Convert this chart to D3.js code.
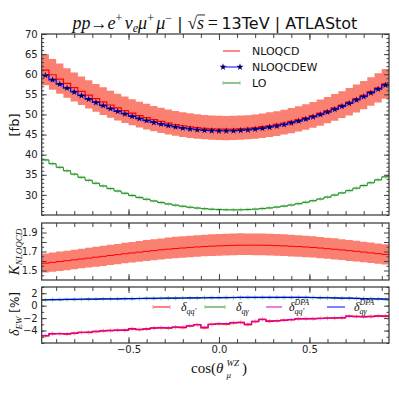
<!DOCTYPE html>
<meta charset="utf-8">
<script src="https://cdn.jsdelivr.net/npm/d3@7"></script>
<style>
body { margin: 0; background: #fff; }
text { font-family: "DejaVu Sans", sans-serif; fill: #111; }
.math { font-family: "Liberation Serif", "DejaVu Serif", serif; font-style: italic; }
.serif { font-family: "Liberation Serif", "DejaVu Serif", serif; }
.tick text { font-size: 10px; fill: #222; }
</style>
<body>
<script>

// binning in cos(theta): 48 bins of 0.04 from -0.98
var binLo = -0.98, binW = 0.04, nBins = 48;

// top panel [fb]
var nloqcd = [61.02,59.87,58.76,57.70,56.69,55.73,54.81,53.95,53.13,52.35,51.62,50.95,
  50.31,49.73,49.19,48.70,48.26,47.86,47.50,47.19,46.94,46.72,46.56,46.43,
  46.36,46.34,46.37,46.45,46.57,46.74,46.95,47.22,47.52,47.87,48.26,48.72,
  49.20,49.74,50.32,50.94,51.61,52.33,53.09,53.91,54.76,55.65,56.59,57.59];
var nloqcdew = [59.71,58.61,57.55,56.54,55.58,54.66,53.79,52.97,52.19,51.45,50.76,50.12,
  49.52,48.97,48.46,48.00,47.59,47.22,46.89,46.61,46.38,46.19,46.05,45.95,
  45.90,45.89,45.93,46.02,46.15,46.33,46.55,46.82,47.13,47.49,47.89,48.35,
  48.84,49.38,49.97,50.60,51.28,52.00,52.77,53.59,54.45,55.35,56.30,57.30];
var lo = [38.70,37.76,36.86,35.99,35.16,34.37,33.62,32.89,32.22,31.57,30.97,30.40,
  29.86,29.37,28.91,28.49,28.10,27.75,27.44,27.17,26.93,26.73,26.57,26.44,
  26.35,26.30,26.28,26.30,26.36,26.46,26.59,26.76,26.97,27.21,27.49,27.81,
  28.16,28.55,28.98,29.45,29.95,30.49,31.07,31.68,32.33,33.02,33.74,34.50];
var loErr = 0.5;

// scale variation of NLOQCD [%]
var scaleUp = [6.5,6.5,6.6,6.6,6.6,6.7,6.7,6.7,6.8,6.8,6.8,6.9,6.9,6.9,7.0,7.0,7.0,7.1,7.1,7.1,7.1,7.1,7.1,7.1,
  7.1,7.1,7.1,7.1,7.0,7.0,7.0,7.0,6.9,6.9,6.9,6.8,6.8,6.8,6.7,6.7,6.7,6.6,6.6,6.6,6.5,6.5,6.4,6.4];
var scaleDn = [6.2,6.2,6.2,6.2,6.1,6.1,6.1,6.1,6.1,6.0,6.0,6.0,6.0,6.0,6.0,5.9,5.9,5.9,5.9,5.9,5.9,5.9,5.9,5.9,
  5.9,5.9,5.9,5.9,5.9,6.0,6.0,6.0,6.0,6.0,6.1,6.1,6.1,6.1,6.2,6.2,6.2,6.2,6.3,6.3,6.3,6.3,6.4,6.4];

// EW corrections [%]
var dqq = [-4.85,-4.5,-4.5,-4.55,-4.45,-4.3,-4.3,-4.15,-4.05,-4.0,-3.95,-3.95,
  -3.7,-3.85,-3.75,-3.6,-3.55,-3.6,-3.45,-3.5,-3.25,-3.05,-3.55,-3.0,
  -2.9,-2.95,-2.75,-2.7,-3.05,-2.55,-2.2,-2.5,-2.45,-2.35,-2.25,-2.1,
  -2.1,-2.1,-2.05,-2.0,-2.0,-1.95,-1.7,-1.75,-1.8,-1.75,-1.65,-1.7];
var dqqDPA = [-4.8,-4.55,-4.5,-4.5,-4.4,-4.3,-4.25,-4.15,-4.05,-4.0,-3.95,-3.9,
  -3.75,-3.8,-3.7,-3.6,-3.55,-3.55,-3.45,-3.45,-3.25,-3.05,-3.45,-3.0,
  -2.9,-2.9,-2.75,-2.7,-2.95,-2.55,-2.25,-2.45,-2.4,-2.35,-2.25,-2.1,
  -2.1,-2.05,-2.05,-2.0,-1.95,-1.95,-1.7,-1.75,-1.75,-1.75,-1.65,-1.65];
var dqg = [0.93,0.96,0.98,0.99,1.01,1.03,1.04,1.06,1.07,1.09,1.1,1.11,1.13,1.14,1.16,1.17,1.19,1.2,1.21,1.23,1.24,1.25,1.27,1.28,
  1.29,1.3,1.3,1.31,1.32,1.32,1.33,1.33,1.33,1.33,1.33,1.32,1.31,1.3,1.28,1.26,1.24,1.21,1.19,1.16,1.13,1.1,1.07,1.04];
var dqgDPA = [0.95,0.97,0.98,1.0,1.02,1.03,1.05,1.06,1.08,1.09,1.1,1.12,1.13,1.15,1.16,1.18,1.19,1.2,1.22,1.23,1.25,1.26,1.27,1.28,
  1.3,1.3,1.31,1.32,1.32,1.33,1.33,1.34,1.34,1.34,1.34,1.33,1.32,1.31,1.29,1.27,1.25,1.22,1.2,1.17,1.14,1.11,1.08,1.05];
var dErr = 0.35;

var edges = d3.range(nBins + 1).map(function(i) { return binLo + i * binW; });
var centers = d3.range(nBins).map(function(i) { return binLo + (i + 0.5) * binW; });

var svg = d3.select("body").append("svg")
    .attr("width", 399)
    .attr("height", 399);

var left = 41.7, right = 389;
var x = d3.scaleLinear().domain([-0.98, 0.94]).range([left, right]);
var y1 = d3.scaleLinear().domain([25, 70]).range([215, 34]);
var y2 = d3.scaleLinear().domain([1.4, 2.0]).range([280, 223]);
var y3 = d3.scaleLinear().domain([-6, 3]).range([343, 287]);

function steps(vals) {
  var p = vals.map(function(v, i) { return [edges[i], v]; });
  p.push([edges[nBins], vals[nBins - 1]]);
  return p;
}
function stepLine(ys) {
  return d3.line().x(function(d) { return x(d[0]); }).y(function(d) { return ys(d[1]); }).curve(d3.curveStepAfter);
}
function stepArea(ys) {
  return d3.area().x(function(d) { return x(d[0]); })
    .y0(function(d) { return ys(d[1]); }).y1(function(d) { return ys(d[2]); })
    .curve(d3.curveStepAfter);
}
function bandPts(lowv, highv) {
  var p = lowv.map(function(v, i) { return [edges[i], v, highv[i]]; });
  p.push([edges[nBins], lowv[nBins - 1], highv[nBins - 1]]);
  return p;
}

var defs = svg.append("defs");
function panel(id, ys) {
  defs.append("clipPath").attr("id", id).append("rect")
    .attr("x", left).attr("y", ys.range()[1])
    .attr("width", right - left).attr("height", ys.range()[0] - ys.range()[1]);
  return svg.append("g").attr("clip-path", "url(#" + id + ")");
}

function errTicks(g, ys, vals, err, color) {
  g.selectAll(null).data(vals).enter().append("line")
    .attr("x1", function(d, i) { return x(centers[i]); })
    .attr("x2", function(d, i) { return x(centers[i]); })
    .attr("y1", function(d) { return ys(d - err); })
    .attr("y2", function(d) { return ys(d + err); })
    .attr("stroke", color).attr("stroke-width", 1);
  g.selectAll(null).data(vals).enter().append("line")
    .attr("x1", function(d, i) { return x(edges[i]) + 0.5; })
    .attr("x2", function(d, i) { return x(edges[i + 1]) - 0.5; })
    .attr("y1", function(d) { return ys(d); })
    .attr("y2", function(d) { return ys(d); })
    .attr("stroke", color).attr("stroke-width", 2);
}

// ---------- top panel
var nloUp = nloqcd.map(function(v, i) { return v * (1 + scaleUp[i] / 100); });
var nloDn = nloqcd.map(function(v, i) { return v * (1 - scaleDn[i] / 100); });

var p1 = panel("c1", y1);
p1.append("path").datum(bandPts(nloDn, nloUp)).attr("d", stepArea(y1)).attr("fill", "#fa8072");
p1.append("path").datum(steps(nloqcd)).attr("d", stepLine(y1)).attr("fill", "none").attr("stroke", "#ff0000").attr("stroke-width", 1.2);
p1.append("path").datum(steps(nloqcdew)).attr("d", stepLine(y1)).attr("fill", "none").attr("stroke", "#0000ff").attr("stroke-width", 1.2);
p1.selectAll(".star").data(nloqcdew).enter().append("path")
  .attr("d", d3.symbol().type(d3.symbolStar).size(15))
  .attr("transform", function(d, i) { return "translate(" + x(centers[i]) + "," + y1(d) + ")"; })
  .attr("fill", "#000066");
errTicks(p1, y1, lo, loErr, "#a8dca8");
p1.append("path").datum(steps(lo)).attr("d", stepLine(y1)).attr("fill", "none").attr("stroke", "#1f8a1f").attr("stroke-width", 1);

// ---------- K factor panel
var kval = nloqcd.map(function(v, i) { return v / lo[i]; });
var kUp = nloUp.map(function(v, i) { return v / lo[i]; });
var kDn = nloDn.map(function(v, i) { return v / lo[i]; });
var p2 = panel("c2", y2);
p2.append("path").datum(bandPts(kDn, kUp)).attr("d", stepArea(y2)).attr("fill", "#fa8072");
p2.append("path").datum(steps(kval)).attr("d", stepLine(y2)).attr("fill", "none").attr("stroke", "#ff0000").attr("stroke-width", 1);

// ---------- EW panel
var p3 = panel("c3", y3);
errTicks(p3, y3, dqg, dErr, "#8fd18f");
p3.append("path").datum(steps(dqg)).attr("d", stepLine(y3)).attr("fill", "none").attr("stroke", "#1f8a1f").attr("stroke-width", 1);
p3.append("path").datum(steps(dqgDPA)).attr("d", stepLine(y3)).attr("fill", "none").attr("stroke", "#0000ff").attr("stroke-width", 1.2);
errTicks(p3, y3, dqq, dErr, "#ff9a9a");
p3.append("path").datum(steps(dqq)).attr("d", stepLine(y3)).attr("fill", "none").attr("stroke", "#ff0000").attr("stroke-width", 1.4);
p3.append("path").datum(steps(dqqDPA)).attr("d", stepLine(y3)).attr("fill", "none").attr("stroke", "#cc00cc").attr("stroke-width", 1);

// ---------- axes (ticks inward on all four sides)
var xMinor = d3.range(-9, 10).map(function(k) { return k / 10; });
var xMajor = [-0.5, 0, 0.5];

function axes(ys, yMajor, yMinor, yFmt, labelX) {
  var top = ys.range()[1], bot = ys.range()[0];
  var g = svg.append("g").attr("class", "ax");
  function add(axis, tr) {
    var a = g.append("g").attr("transform", tr).call(axis);
    a.select(".domain").remove();
    a.selectAll(".tick line").attr("stroke", "#444");
    return a;
  }
  // y
  add(d3.axisLeft(ys).tickValues(yMinor).tickSizeInner(-2.5).tickSizeOuter(0).tickFormat(""), "translate(" + left + ",0)");
  add(d3.axisRight(ys).tickValues(yMinor).tickSizeInner(-2.5).tickSizeOuter(0).tickFormat(""), "translate(" + right + ",0)");
  add(d3.axisLeft(ys).tickValues(yMajor).tickSizeInner(-5).tickSizeOuter(0).tickPadding(4).tickFormat(yFmt), "translate(" + left + ",0)");
  add(d3.axisRight(ys).tickValues(yMajor).tickSizeInner(-5).tickSizeOuter(0).tickFormat(""), "translate(" + right + ",0)");
  // x
  add(d3.axisBottom(x).tickValues(xMinor).tickSizeInner(-4).tickSizeOuter(0).tickFormat(""), "translate(0," + bot + ")");
  add(d3.axisTop(x).tickValues(xMinor).tickSizeInner(-4).tickSizeOuter(0).tickFormat(""), "translate(0," + top + ")");
  add(d3.axisBottom(x).tickValues(xMajor).tickSizeInner(-6).tickSizeOuter(0).tickPadding(3)
      .tickFormat(labelX ? d3.format(".1f") : ""), "translate(0," + bot + ")");
  add(d3.axisTop(x).tickValues(xMajor).tickSizeInner(-6).tickSizeOuter(0).tickFormat(""), "translate(0," + top + ")");
  g.append("rect").attr("x", left).attr("y", top).attr("width", right - left).attr("height", bot - top)
    .attr("fill", "none").attr("stroke", "#333").attr("stroke-width", 1.2);
}
axes(y1, d3.range(30, 71, 5), d3.range(25, 71, 1), d3.format("d"), false);
axes(y2, [1.5, 1.6, 1.7, 1.8, 1.9], [1.45, 1.55, 1.65, 1.75, 1.85, 1.95],
  function(d) { return (Math.round(d * 10) % 2 === 1) ? d3.format(".1f")(d) : ""; }, false);
axes(y3, [-4, -2, 0, 2], d3.range(-6, 4, 1), d3.format("d"), true);

// ---------- rich text helper
function rich(g, x0, y0, parts) {
  var cx = x0, lastStart = x0;
  parts.forEach(function(p) {
    var sx = p.stack ? lastStart : cx;
    var t = g.append("text").attr("x", sx).attr("y", y0 + (p.dy || 0))
      .style("font-size", p.size + "px").text(p.t);
    if (p.cls) t.attr("class", p.cls);
    var w = t.node().getComputedTextLength();
    if (p.over) g.append("line").attr("x1", sx).attr("x2", sx + w + 1)
      .attr("y1", y0 - p.size * 0.78).attr("y2", y0 - p.size * 0.78).attr("stroke", "#111").attr("stroke-width", 0.9);
    if (!p.stack) lastStart = sx;
    cx = Math.max(cx, sx + w);
  });
  return cx;
}
function centered(parts, cxp, cyp, rotate) {
  var g = svg.append("g");
  var inner = g.append("g");
  var w = rich(inner, 0, 0, parts);
  if (rotate) g.attr("transform", "translate(" + cxp + "," + cyp + ") rotate(-90) translate(" + (-w / 2) + ",0)");
  else g.attr("transform", "translate(" + (cxp - w / 2) + "," + cyp + ")");
  return g;
}

// title
centered([
  {t: "pp", cls: "math", size: 18},
  {t: "\u2192", cls: "serif", size: 17},
  {t: "e", cls: "math", size: 18},
  {t: "+\u2009", cls: "serif", size: 12, dy: -7},
  {t: "\u03bd", cls: "math", size: 18},
  {t: "e", cls: "math", size: 12, dy: 3},
  {t: "\u03bc", cls: "math", size: 18},
  {t: "+\u2009", cls: "serif", size: 12, dy: -7},
  {t: "\u03bc", cls: "math", size: 18},
  {t: "\u2212", cls: "serif", size: 12, dy: -7},
  {t: "\u00a0|\u00a0", size: 16},
  {t: "\u221a", cls: "serif", size: 17},
  {t: "s", cls: "math", size: 18, over: true},
  {t: "\u2009=\u2009", cls: "serif", size: 18},
  {t: "13TeV | ATLAStot", size: 16}
], 215, 29, false);

// y labels
centered([{t: "[fb]", size: 13}], 19, 125, true);
centered([
  {t: "K", cls: "math", size: 15},
  {t: "NLOQCD", cls: "math", size: 9, dy: 3}
], 19, 252, true);
centered([
  {t: "\u03b4", cls: "math", size: 14},
  {t: "EW", cls: "math", size: 9, dy: 3},
  {t: "\u00a0[%]", size: 12}
], 19, 314, true);

// x label
centered([
  {t: "cos(", cls: "serif", size: 15},
  {t: "\u03b8\u2009", cls: "math", size: 15},
  {t: "WZ", cls: "math", size: 9, dy: -7},
  {t: "\u03bc", cls: "math", size: 9, dy: 5, stack: true},
  {t: "\u2009)", cls: "serif", size: 15}
], 219, 373, false);

// ---------- top legend
var leg = svg.append("g");
leg.append("line").attr("x1", 223).attr("x2", 240).attr("y1", 51).attr("y2", 51).attr("stroke", "#ff6060").attr("stroke-width", 1.5);
leg.append("text").attr("x", 252).attr("y", 55).style("font-size", "11px").text("NLOQCD");
leg.append("line").attr("x1", 223).attr("x2", 240).attr("y1", 67).attr("y2", 67).attr("stroke", "#0000ff").attr("stroke-width", 1);
[223, 240].forEach(function(px) {
  leg.append("path").attr("d", d3.symbol().type(d3.symbolStar).size(15)).attr("transform", "translate(" + px + ",67)").attr("fill", "#000066");
});
leg.append("text").attr("x", 252).attr("y", 71).style("font-size", "11px").text("NLOQCDEW");
leg.append("line").attr("x1", 223).attr("x2", 240).attr("y1", 83).attr("y2", 83).attr("stroke", "#1f8a1f").attr("stroke-width", 1);
[223, 240].forEach(function(px) {
  leg.append("line").attr("x1", px).attr("x2", px).attr("y1", 81).attr("y2", 85).attr("stroke", "#8fd18f");
});
leg.append("text").attr("x", 252).attr("y", 87).style("font-size", "11px").text("LO");

// ---------- bottom legend
var legItems = [
  {x1: 153, x2: 170, tx: 181, color: "#ff0000", caps: "#ff9a9a", sub: "qq'", sup: ""},
  {x1: 205, x2: 225, tx: 236, color: "#1f8a1f", caps: "#8fd18f", sub: "q\u03b3", sup: ""},
  {x1: 266, x2: 282, tx: 289, color: "#cc00cc", caps: null, sub: "qq'", sup: "DPA"},
  {x1: 327, x2: 345, tx: 354, color: "#0000ff", caps: null, sub: "q\u03b3", sup: "DPA"}
];
var lg = svg.append("g");
legItems.forEach(function(d) {
  lg.append("line").attr("x1", d.x1).attr("x2", d.x2).attr("y1", 307).attr("y2", 307).attr("stroke", d.color).attr("stroke-width", 1);
  if (d.caps) [d.x1, d.x2].forEach(function(px) {
    lg.append("line").attr("x1", px).attr("x2", px).attr("y1", 305).attr("y2", 309).attr("stroke", d.caps);
  });
  var parts = [{t: "\u03b4", cls: "math", size: 12}];
  if (d.sup) parts.push({t: d.sup, cls: "math", size: 8, dy: -6});
  parts.push({t: d.sub, cls: "math", size: 8, dy: 3, stack: !!d.sup});
  rich(lg.append("g"), d.tx, 311, parts);
});

</script>
</body>
</html>
